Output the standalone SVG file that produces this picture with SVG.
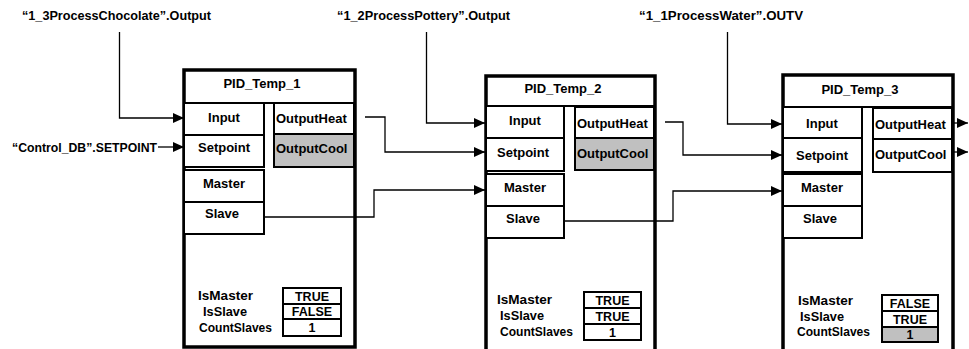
<svg xmlns="http://www.w3.org/2000/svg" width="969" height="349" viewBox="0 0 969 349">
<style>
text{font-family:"Liberation Sans",Arial,sans-serif;font-weight:bold;font-size:13px;fill:#000}
.c{text-anchor:middle}
.p{font-size:13px}
.v{font-size:12.5px}
.outer{fill:#fff;stroke:#000;stroke-width:3.5}
.box{fill:#fff;stroke:#000;stroke-width:2}
.gray{fill:#c0c0c0;stroke:#000;stroke-width:2}
.sep{stroke:#000;stroke-width:2}
.wire{fill:none;stroke:#000;stroke-width:1.3;marker-end:url(#ah)}
</style>
<defs>
<marker id="ah" markerUnits="userSpaceOnUse" markerWidth="12" markerHeight="10" refX="11" refY="5" orient="auto">
<path d="M0,0 L11,5 L0,10 Z" fill="#000"/>
</marker>
</defs>
<rect width="969" height="349" fill="#fff"/>

<g id="labels">
<text x="22" y="20" textLength="189" lengthAdjust="spacingAndGlyphs">“1_3ProcessChocolate”.Output</text>
<text x="12" y="152" textLength="145" lengthAdjust="spacingAndGlyphs">“Control_DB”.SETPOINT</text>
<text x="337" y="20" textLength="173" lengthAdjust="spacingAndGlyphs">“1_2ProcessPottery”.Output</text>
<text x="639" y="20" textLength="164" lengthAdjust="spacingAndGlyphs">“1_1ProcessWater”.OUTV</text>
</g>

<g id="PID_Temp_1">
<rect class="outer" x="184" y="70" width="171" height="277"/>
<line class="sep" x1="184" y1="103" x2="355" y2="103"/>
<text class="c" x="262" y="88">PID_Temp_1</text>
<rect class="box" x="184" y="103" width="80" height="32"/>
<rect class="box" x="184" y="135" width="80" height="32"/>
<rect class="box" x="184" y="170" width="80" height="32"/>
<rect class="box" x="184" y="202" width="80" height="32"/>
<rect class="box" x="274" y="103" width="80" height="31"/>
<rect class="gray" x="274" y="134" width="80" height="33"/>
<text class="c" x="224" y="122">Input</text>
<text class="c" x="224" y="152">Setpoint</text>
<text class="c" x="224" y="188">Master</text>
<text class="c" x="222" y="218">Slave</text>
<text x="276" y="123">OutputHeat</text>
<text x="276" y="153">OutputCool</text>
<text class="p" x="198" y="300" textLength="55" lengthAdjust="spacingAndGlyphs">IsMaster</text>
<text class="p" x="203" y="316" textLength="44" lengthAdjust="spacingAndGlyphs">IsSlave</text>
<text class="p" x="199" y="332" textLength="73" lengthAdjust="spacingAndGlyphs">CountSlaves</text>
<rect class="box" x="283" y="288" width="58" height="16"/>
<rect class="box" x="283" y="304" width="58" height="15"/>
<rect class="box" x="283" y="319" width="58" height="17"/>
<text class="c v" x="312" y="300.5">TRUE</text>
<text class="c v" x="312" y="316">FALSE</text>
<text class="c v" x="312" y="332">1</text>
</g>

<g id="PID_Temp_2">
<rect class="outer" x="486" y="76" width="169" height="290"/>
<line class="sep" x1="486" y1="106" x2="655" y2="106"/>
<text class="c" x="563" y="93">PID_Temp_2</text>
<rect class="box" x="486" y="106" width="78" height="32"/>
<rect class="box" x="486" y="138" width="78" height="33"/>
<rect class="box" x="486" y="174" width="78" height="32"/>
<rect class="box" x="486" y="206" width="78" height="32"/>
<rect class="box" x="575" y="107" width="79" height="31"/>
<rect class="gray" x="575" y="138" width="79" height="32"/>
<text class="c" x="525" y="125">Input</text>
<text class="c" x="523" y="157">Setpoint</text>
<text class="c" x="525" y="192">Master</text>
<text class="c" x="523" y="223">Slave</text>
<text x="577" y="128">OutputHeat</text>
<text x="577" y="158">OutputCool</text>
<text class="p" x="497" y="304" textLength="55" lengthAdjust="spacingAndGlyphs">IsMaster</text>
<text class="p" x="500" y="320" textLength="44" lengthAdjust="spacingAndGlyphs">IsSlave</text>
<text class="p" x="500" y="336" textLength="73" lengthAdjust="spacingAndGlyphs">CountSlaves</text>
<rect class="box" x="584" y="292" width="57" height="16"/>
<rect class="box" x="584" y="308" width="57" height="16"/>
<rect class="box" x="584" y="324" width="57" height="16"/>
<text class="c v" x="612.5" y="304.5">TRUE</text>
<text class="c v" x="612.5" y="320.5">TRUE</text>
<text class="c v" x="612.5" y="336.5">1</text>
</g>

<g id="PID_Temp_3">
<rect class="outer" x="783" y="75" width="170" height="290"/>
<line class="sep" x1="783" y1="107" x2="953" y2="107"/>
<text class="c" x="860" y="94">PID_Temp_3</text>
<rect class="box" x="783" y="107" width="79" height="31"/>
<rect class="box" x="783" y="138" width="79" height="34"/>
<rect class="box" x="783" y="174" width="79" height="32"/>
<rect class="box" x="783" y="206" width="79" height="32"/>
<rect class="box" x="873" y="108" width="79" height="31"/>
<rect class="box" x="873" y="139" width="79" height="33"/>
<text class="c" x="822" y="128">Input</text>
<text class="c" x="822" y="160">Setpoint</text>
<text class="c" x="822" y="192">Master</text>
<text class="c" x="820" y="223">Slave</text>
<text x="875" y="129">OutputHeat</text>
<text x="875" y="159">OutputCool</text>
<text class="p" x="798" y="305" textLength="55" lengthAdjust="spacingAndGlyphs">IsMaster</text>
<text class="p" x="800" y="321" textLength="44" lengthAdjust="spacingAndGlyphs">IsSlave</text>
<text class="p" x="797" y="336" textLength="73" lengthAdjust="spacingAndGlyphs">CountSlaves</text>
<rect class="box" x="882" y="295" width="56" height="16"/>
<rect class="box" x="882" y="311" width="56" height="16"/>
<rect class="gray" x="882" y="327" width="56" height="15"/>
<text class="c v" x="910" y="307.5">FALSE</text>
<text class="c v" x="910" y="323.5">TRUE</text>
<text class="c v" x="910" y="339">1</text>
</g>

<g id="connectors">
<polyline class="wire" points="119.5,32 119.5,118 184,118"/>
<polyline class="wire" points="158,147 184,147"/>
<polyline class="wire" points="365,117 385,117 385,152 485,152"/>
<polyline class="wire" points="264,217 374,217 374,190 485,190"/>
<polyline class="wire" points="426.5,32 426.5,123 485,123"/>
<polyline class="wire" points="665,122 683,122 683,155 782,155"/>
<polyline class="wire" points="564,221 673,221 673,191 782,191"/>
<polyline class="wire" points="727.5,32 727.5,124 782,124"/>
<polyline class="wire" points="954,123 968,123"/>
<polyline class="wire" points="954,152 968,152"/>
</g>
</svg>
